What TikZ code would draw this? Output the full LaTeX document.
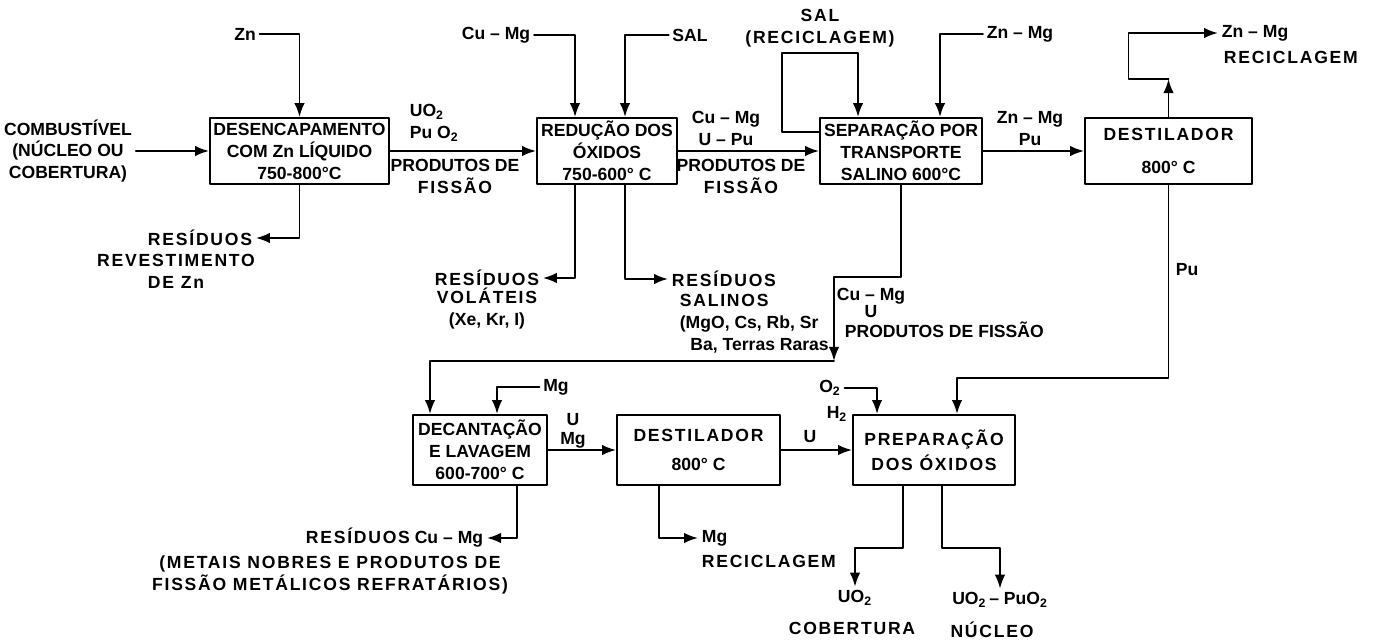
\documentclass[tikz,border=0pt]{standalone}
\usepackage{fontspec}
\setmainfont{Liberation Sans}
\usetikzlibrary{arrows.meta}
\newcommand\esp[1]{{\addfontfeature{LetterSpace=10}#1}}
\tikzset{
  caixa/.style={draw,line width=1.1pt,inner sep=0pt,align=center,minimum height=1.32cm},
  rot/.style={inner sep=2pt,align=center},
  fluxo/.style={line width=1.1pt,->},
}
\begin{document}
\begin{tikzpicture}[x=0.02cm,y=-0.02cm,>={Latex[length=2.8mm,width=2.1mm]},
  font=\fontsize{10}{12.5}\selectfont\bfseries,line join=round,line cap=round]
	\useasboundingbox (0,0) rectangle (1375,642);
	% caixas
	\node[caixa,minimum width=3.58cm] (desenc) at (299.5,151) {DESENCAPAMENTO\\COM Zn LÍQUIDO\\750-800°C};
	\node[caixa,minimum width=2.8cm] (reducao) at (607,151) {REDUÇÃO DOS\\ÓXIDOS\\750-600° C};
	\node[caixa,minimum width=3.24cm] (separ) at (901,151) {SEPARAÇÃO POR\\TRANSPORTE\\SALINO 600°C};
	\node[caixa,minimum width=3.34cm] (dest) at (1168.5,151) {\esp{DESTILADOR}\\[6pt]800° C};
	\node[caixa,minimum width=2.68cm,minimum height=1.4cm] (decant) at (480,450) {DECANTAÇÃO\\E LAVAGEM\\600-700° C};
	\node[caixa,minimum width=3.26cm,minimum height=1.4cm] (dest2) at (698.5,450) {\esp{DESTILADOR}\\[4pt]800° C};
	\node[caixa,minimum width=3.24cm,minimum height=1.4cm] (prep) at (934,450) {\esp{PREPARAÇÃO}\\[2pt]\esp{DOS ÓXIDOS}};
	% rotulos
	\node[rot] (zn) at (245,34) {Zn};
	\node[rot] (comb) at (68,151) {COMBUSTÍVEL\\(NÚCLEO OU\\COBERTURA)};
	\node[rot] (resrev) at (200,238) {\esp{RESÍDUOS}};
	\node[rot] (resrevb) at (176,271) {\esp{REVESTIMENTO}\\\esp{DE Zn}};
	\node[rot,align=left,anchor=west] (uopu) at (406,123) {UO\textsubscript{2}\\Pu O\textsubscript{2}};
	\node[rot] (prodfis) at (455,176) {PRODUTOS DE\\\esp{FISSÃO}};
	\node[rot] (cumg) at (496,35) {Cu -- Mg};
	\node[rot] (sal) at (690,35) {SAL};
	\node[rot] (resvol) at (487,278) {\esp{RESÍDUOS}};
	\node[rot] (resvolb) at (487,309) {\esp{VOLÁTEIS}\\(Xe, Kr, I)};
	\node[rot,anchor=west] (ressal) at (668,279) {\esp{RESÍDUOS}};
	\node[rot,align=left,anchor=west] (ressalb) at (676,324) {\esp{SALINOS}\\(MgO, Cs, Rb, Sr\\\hspace*{6pt}Ba, Terras Raras};
	\node[rot] (cumgupu) at (726,128) {Cu -- Mg\\U -- Pu};
	\node[rot] (prodfisb) at (741,176) {PRODUTOS DE\\\esp{FISSÃO}};
	\node[rot] (salrec) at (820,28) {\esp{SAL}\\\esp{(RECICLAGEM)}};
	\node[rot] (znmg) at (1020,34) {Zn -- Mg};
	\node[rot] (znmgpu) at (1030,129) {Zn -- Mg\\Pu};
	\node[rot,anchor=west] (znrec) at (1218,33) {Zn -- Mg};
	\node[rot,anchor=west] (znrecb) at (1220,57) {\esp{RECICLAGEM}};
	\node[rot] (pu) at (1187,270) {Pu};
	\node[rot] (cumgu) at (871,303) {Cu -- Mg\\[-3pt]U};
	\node[rot,anchor=west] (prodfisc) at (841,330) {PRODUTOS DE FISSÃO};
	\node[rot] (mg) at (556,387) {Mg};
	\node[rot] (umg) at (573,431) {U\\[-2pt]Mg};
	\node[rot] (u) at (810,437) {U};
	\node[rot] (o2) at (830,388) {O\textsubscript{2}};
	\node[rot] (h2) at (837,414) {H\textsubscript{2}};
	\node[rot,anchor=east] (rescu) at (487,538) {\esp{RESÍDUOS} Cu -- Mg};
	\node[rot] (metais) at (330,575) {\esp{(METAIS NOBRES E PRODUTOS DE}\\\esp{FISSÃO METÁLICOS REFRATÁRIOS)}};
	\node[rot,anchor=west] (mgrec) at (698,538) {Mg};
	\node[rot,anchor=west] (mgrecb) at (698,561) {\esp{RECICLAGEM}};
	\node[rot] (uo2) at (855,598) {UO\textsubscript{2}};
	\node[rot] (cob) at (852,628) {\esp{COBERTURA}};
	\node[rot] (uopuo) at (1000,600) {UO\textsubscript{2}\,-- PuO\textsubscript{2}};
	\node[rot] (nucleo) at (992,630) {\esp{NÚCLEO}};
	% fluxos
	\draw[fluxo] (zn.east) -| (desenc.north);
	\draw[fluxo] (comb.east) -- (desenc.west);
	\draw[fluxo] (desenc.south) |- (resrev.east);
	\draw[fluxo] (desenc.east) -- (reducao.west);
	\draw[fluxo] (cumg.east) -| ([xshift=-0.64cm]reducao.north);
	\draw[fluxo] (sal.west) -| ([xshift=0.36cm]reducao.north);
	\draw[fluxo] ([xshift=-0.64cm]reducao.south) |- (resvol.east);
	\draw[fluxo] ([xshift=0.36cm]reducao.south) |- (ressal.west);
	\draw[fluxo] (reducao.east) -- (separ.west);
	\draw[fluxo] ([yshift=0.38cm]separ.west) -| ++(-37,-79) -| ([xshift=-0.86cm]separ.north);
	\draw[fluxo] (znmg.west) -| ([xshift=0.78cm]separ.north);
	\draw[fluxo] (separ.east) -- (dest.west);
	\draw[fluxo] (dest.north) -- ++(0,-38) coordinate (topo);
	\draw[fluxo] (topo) -- ++(-40,0) |- (znrec.west);
	\draw[fluxo] (dest.south) -- ++(0,193) -| ([xshift=0.46cm]prep.north);
	\draw[fluxo] (separ.south) -- ++(0,92) -| ++(-67,84) coordinate (junta);
	\draw[fluxo] (junta) -| ([xshift=-1cm]decant.north);
	\draw[fluxo] (mg.west) -| ([xshift=0.34cm]decant.north);
	\draw[fluxo] (decant.east) -- (dest2.west);
	\draw[fluxo] (dest2.east) -- (prep.west);
	\draw[fluxo] (o2.east) -| ([xshift=-1.14cm]prep.north);
	\draw[fluxo] ([xshift=0.74cm]decant.south) |- (rescu.east);
	\draw[fluxo] ([xshift=-0.79cm]dest2.south) |- (mgrec.west);
	\draw[fluxo] ([xshift=-0.62cm]prep.south) -- ++(0,62) -| (uo2.north);
	\draw[fluxo] ([xshift=0.16cm]prep.south) -- ++(0,62) -| (uopuo.north);
\end{tikzpicture}
\end{document}
